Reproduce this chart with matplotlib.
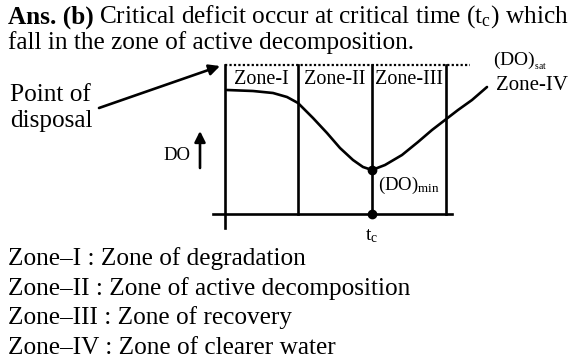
import numpy as np
import matplotlib.pyplot as plt

plt.rcParams['font.family'] = ['Liberation Serif', 'DejaVu Serif']
plt.rcParams['mathtext.fontset'] = 'custom'
plt.rcParams['mathtext.rm'] = 'Liberation Serif'
plt.rcParams['mathtext.it'] = 'Liberation Serif:italic'
plt.rcParams['mathtext.bf'] = 'Liberation Serif:bold'

# Data (pixel coordinates of the sketch)

curve_x = [227, 253, 273, 287, 298, 313, 327, 340, 353, 363, 372,
           385, 402, 418, 432, 445, 458, 472, 487]
curve_y = [90, 91, 93, 97, 103, 118, 133, 148, 160, 167, 170,
           165, 155, 142, 130, 120, 110, 100, 87]

zone_edges = [225, 298, 372, 446]
zone_names = ["Zone-I", "Zone-II", "Zone-III"]
t_c = 372
do_min = 170
do_sat = 65
base = 214

notes = ["Zone\u2013I : Zone of degradation",
         "Zone\u2013II : Zone of active decomposition",
         "Zone\u2013III : Zone of recovery",
         "Zone\u2013IV : Zone of clearer water"]

# Canvas

fig = plt.figure(figsize=(5.75, 3.6), dpi=100)
ax = fig.add_axes((0, 0, 1, 1))
ax.set_xlim(0, 575)
ax.set_ylim(360, 0)
ax.axis("off")

lw = 1.9
fs = 18.2

# Header

bold = ax.text(8, 17, "Ans. (b)", fontsize=fs, fontweight="bold",
               va="center", ha="left")
r = fig.canvas.get_renderer()
x_end = ax.transData.inverted().transform(bold.get_window_extent(r))[1][0]
ax.text(x_end + 5, 17, r"Critical deficit occur at critical time (t$_\mathrm{c}$) which",
        fontsize=fs, va="center", ha="left")
ax.text(8, 43, "fall in the zone of active decomposition.",
        fontsize=fs, va="center", ha="left")

# Sketch

ax.plot([zone_edges[0], 470], [do_sat, do_sat], color="black", lw=1.6, ls=(0, (1, 1)))
ax.plot([213, 452], [base, base], color="black", lw=lw)
ax.plot([zone_edges[0], zone_edges[0]], [do_sat, 228], color="black", lw=lw)
for x in zone_edges[1:]:
    ax.plot([x, x], [do_sat, base], color="black", lw=lw)

for i, name in enumerate(zone_names):
    ax.text((zone_edges[i] + zone_edges[i + 1]) / 2, 79, name,
            fontsize=14.5, ha="center", va="center")

ax.plot(curve_x, curve_y, color="black", lw=lw, solid_capstyle="round")
ax.plot([t_c, t_c], [do_min, base], "o", color="black", ms=6)

ax.text(378, 185, r"(DO)$_\mathrm{min}$", fontsize=13.5, ha="left", va="center")
ax.text(t_c, 236, r"t$_\mathrm{c}$", fontsize=14, ha="center", va="center")
ax.text(493, 61, r"(DO)$_\mathrm{_{sat}}$", fontsize=14, ha="left", va="center")
ax.text(496, 85, "Zone-IV", fontsize=15, ha="left", va="center")

ax.text(10, 95, "Point of", fontsize=fs, ha="left", va="center")
ax.text(10, 121, "disposal", fontsize=fs, ha="left", va="center")
ax.annotate("", xy=(220, 66), xytext=(99, 108),
            arrowprops=dict(arrowstyle="-|>", color="black", lw=lw,
                            mutation_scale=16, shrinkA=0, shrinkB=0))

ax.text(190, 156, "DO", fontsize=13.5, ha="right", va="center")
ax.annotate("", xy=(200, 131), xytext=(200, 168),
            arrowprops=dict(arrowstyle="-|>", color="black", lw=lw,
                            mutation_scale=16, shrinkA=0, shrinkB=0))

# Notes

for i, line in enumerate(notes):
    ax.text(8, 259 + 29.5 * i, line, fontsize=fs, ha="left", va="center")

fig.savefig("out.png", dpi=100)
